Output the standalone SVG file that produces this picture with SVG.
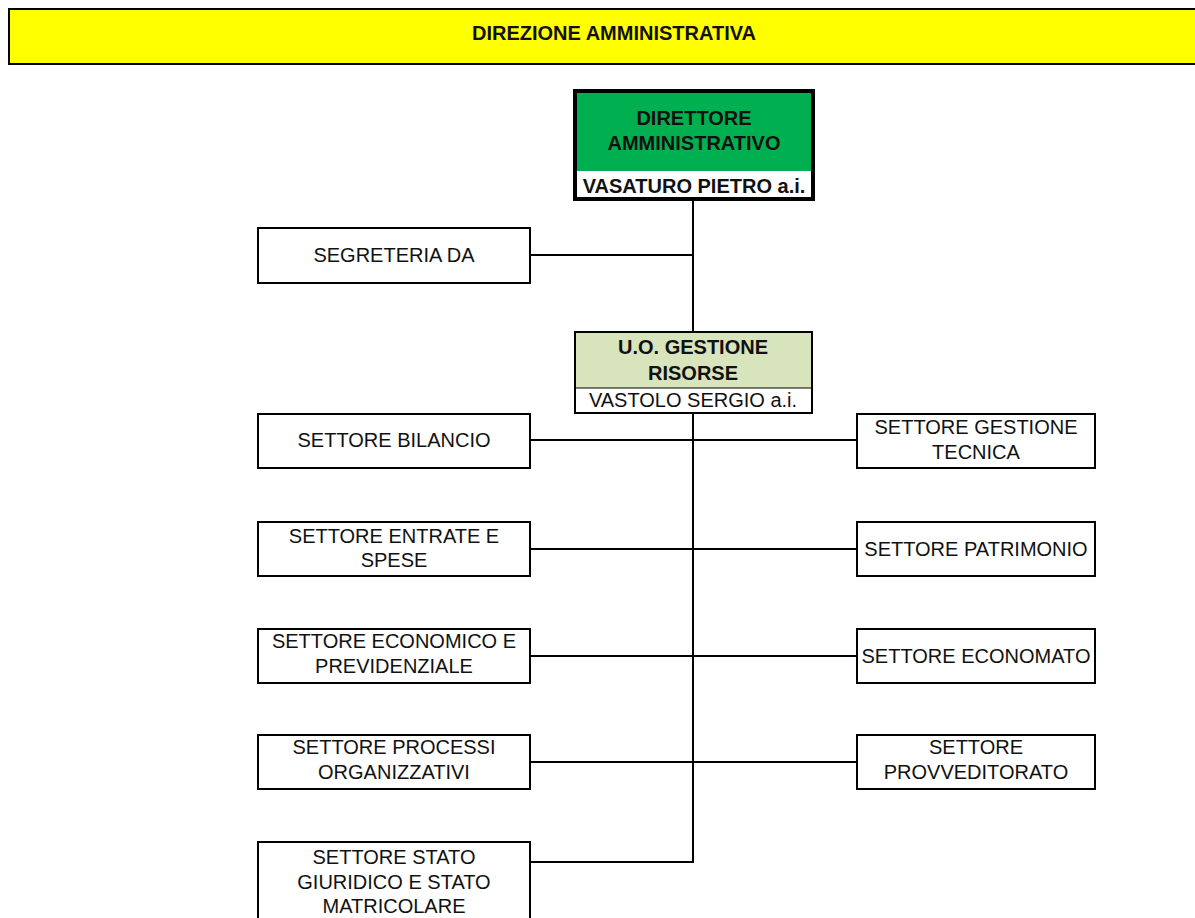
<svg xmlns="http://www.w3.org/2000/svg" width="1195" height="918" viewBox="0 0 1195 918">
<style>
text{font-family:"Liberation Sans",Arial,sans-serif;font-size:20px;fill:#111;text-anchor:middle}
.b{font-weight:bold}
.box{fill:#fff;stroke:#000;stroke-width:2}
.ln{stroke:#000;stroke-width:2;fill:none}
</style>
<rect width="1195" height="918" fill="#fff"/>
<g id="header">
<rect x="9" y="9" width="1200" height="55" fill="#ffff00" stroke="#000" stroke-width="2"/>
<text class="b" x="614" y="40">DIREZIONE AMMINISTRATIVA</text>
</g>
<g id="connectors">
<path class="ln" d="M693 200V332"/>
<path class="ln" d="M530 255H693"/>
<path class="ln" d="M693 413V862H530"/>
<path class="ln" d="M530 440H857"/>
<path class="ln" d="M530 549H857"/>
<path class="ln" d="M530 656H857"/>
<path class="ln" d="M530 762H857"/>
</g>
<g id="direttore">
<rect x="575" y="91" width="238" height="108" fill="#00b050"/>
<rect x="575" y="171" width="238" height="28" fill="#fff"/>
<rect x="575" y="91" width="238" height="108" fill="none" stroke="#000" stroke-width="4"/>
<text class="b" x="694" y="125">DIRETTORE</text>
<text class="b" x="694" y="150">AMMINISTRATIVO</text>
<text class="b" x="694" y="193">VASATURO PIETRO a.i.</text>
</g>
<g id="segreteria">
<rect class="box" x="258" y="228" width="272" height="55"/>
<text x="394" y="262">SEGRETERIA DA</text>
</g>
<g id="uo-gestione-risorse">
<rect x="575" y="332" width="237" height="81" fill="#d8e4bc" stroke="#000" stroke-width="2"/>
<rect x="575" y="388" width="237" height="25" fill="#fff" stroke="#000" stroke-width="1"/>
<rect x="575" y="332" width="237" height="81" fill="none" stroke="#000" stroke-width="2"/>
<text class="b" x="693" y="354">U.O. GESTIONE</text>
<text class="b" x="693" y="380">RISORSE</text>
<text x="693" y="407">VASTOLO SERGIO a.i.</text>
</g>
<g id="bilancio">
<rect class="box" x="258" y="414" width="272" height="54"/>
<text x="394" y="447">SETTORE BILANCIO</text>
</g>
<g id="entrate-spese">
<rect class="box" x="258" y="522" width="272" height="54"/>
<text x="394" y="543">SETTORE ENTRATE E</text>
<text x="394" y="567">SPESE</text>
</g>
<g id="economico">
<rect class="box" x="258" y="629" width="272" height="54"/>
<text x="394" y="648">SETTORE ECONOMICO E</text>
<text x="394" y="673">PREVIDENZIALE</text>
</g>
<g id="processi">
<rect class="box" x="258" y="735" width="272" height="54"/>
<text x="394" y="754">SETTORE PROCESSI</text>
<text x="394" y="779">ORGANIZZATIVI</text>
</g>
<g id="stato">
<rect class="box" x="258" y="842" width="272" height="90"/>
<text x="394" y="864">SETTORE STATO</text>
<text x="394" y="889">GIURIDICO E STATO</text>
<text x="394" y="913">MATRICOLARE</text>
</g>
<g id="gestione-tecnica">
<rect class="box" x="857" y="414" width="238" height="54"/>
<text x="976" y="434">SETTORE GESTIONE</text>
<text x="976" y="459">TECNICA</text>
</g>
<g id="patrimonio">
<rect class="box" x="857" y="522" width="238" height="54"/>
<text x="976" y="556">SETTORE PATRIMONIO</text>
</g>
<g id="economato">
<rect class="box" x="857" y="629" width="238" height="54"/>
<text x="976" y="663">SETTORE ECONOMATO</text>
</g>
<g id="provveditorato">
<rect class="box" x="857" y="735" width="238" height="54"/>
<text x="976" y="754">SETTORE</text>
<text x="976" y="779">PROVVEDITORATO</text>
</g>
</svg>
